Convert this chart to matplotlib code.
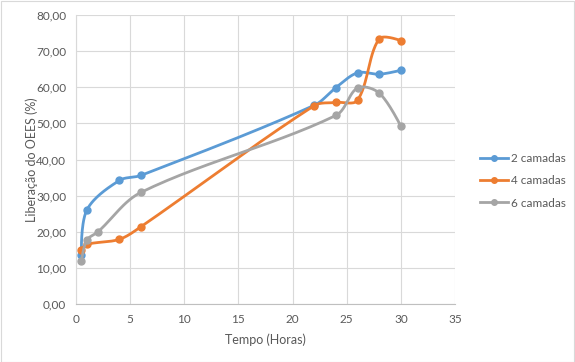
import numpy as np
import matplotlib
matplotlib.use('Agg')
from matplotlib import pyplot as plt
from matplotlib.ticker import FuncFormatter

# dados
t_2 = [0.5, 1, 4, 6, 22, 24, 26, 28, 30]
lib_2 = [13.5, 26.0, 34.2, 35.6, 55.0, 59.9, 64.0, 63.6, 64.7]

t_4 = [0.5, 1, 4, 6, 22, 24, 26, 28, 30]
lib_4 = [15.0, 16.5, 17.9, 21.4, 54.9, 55.8, 56.4, 73.4, 72.9]

t_6 = [0.5, 1, 2, 6, 24, 26, 28, 30]
lib_6 = [11.9, 17.7, 19.9, 30.9, 52.2, 59.8, 58.4, 49.2]

series = ['2 camadas', '4 camadas', '6 camadas']
cores = ['#5B9BD5', '#ED7D31', '#A5A5A5']

plt.rcParams['font.family'] = ['Lato', 'DejaVu Sans']


def suavizar(x, y, n=30):
    # curva suave parecida com a do excel (bezier, tangente pesada pelo tamanho dos trechos)
    p = np.column_stack([np.asarray(x, float), np.asarray(y, float)])
    esc = np.array([10.83, 3.61])  # px por unidade, para medir distancias
    k = len(p)
    L = [np.linalg.norm((p[i + 1] - p[i]) * esc) for i in range(k - 1)]
    tang = []
    for i in range(k):
        a = p[i - 1] if i > 0 else p[i]
        b = p[i + 1] if i < k - 1 else p[i]
        tang.append(b - a)
    out = [p[0]]
    for i in range(k - 1):
        p1, p2 = p[i], p[i + 1]
        lp = L[i - 1] if i > 0 else 0.0
        ln = L[i + 1] if i + 1 < k - 1 else 0.0
        f1 = L[i] / (lp + L[i]) / 3.0 if i > 0 else 0.0
        f2 = L[i] / (L[i] + ln) / 3.0 if i + 1 < k - 1 else 0.0
        c1 = p1 + tang[i] * f1
        c2 = p2 - tang[i + 1] * f2
        s = np.linspace(0, 1, n)[1:, None]
        b = (1 - s) ** 3 * p1 + 3 * (1 - s) ** 2 * s * c1 + 3 * (1 - s) * s ** 2 * c2 + s ** 3 * p2
        out.extend(b)
    out = np.array(out)
    return out[:, 0], out[:, 1]


fig = plt.figure(figsize=(5.75, 3.62), dpi=100)
ax = fig.add_axes([76 / 575, 58 / 362, 379 / 575, 289 / 362])

dados = [(t_2, lib_2), (t_4, lib_4), (t_6, lib_6)]
for (x, y), nome, cor in zip(dados, series, cores):
    xs, ys = suavizar(x, y)
    ax.plot(xs, ys, color=cor, lw=2, zorder=3, label=nome,
            marker='o', markersize=5, markevery=list(range(0, len(xs), 29)))

ax.set_xlim(0, 35)
ax.set_ylim(0, 80)
ax.set_xticks(range(0, 36, 5))
ax.set_yticks(range(0, 81, 10))
ax.yaxis.set_major_formatter(FuncFormatter(lambda v, p: ('%.2f' % v).replace('.', ',')))
ax.grid(True, color='#D9D9D9', lw=0.8)
ax.set_axisbelow(True)
for lado in ['top', 'right']:
    ax.spines[lado].set_visible(False)
ax.spines['left'].set_color('#D9D9D9')
ax.spines['bottom'].set_color('#BFBFBF')
ax.tick_params(length=0, colors='#595959', labelsize=8.5, pad=7)

ax.set_xlabel('Tempo (Horas)', color='#595959', fontsize=9, labelpad=6)
ax.set_ylabel('Liberação do OEES (%)', color='#595959', fontsize=9, labelpad=-1)

leg = ax.legend(loc='center left', bbox_to_anchor=(1.065, 0.426), frameon=False,
                borderaxespad=0, borderpad=0, fontsize=8.5, labelcolor='#595959',
                handlelength=2.4, handletextpad=0.25, labelspacing=0.95, markerscale=0.8)

fig.patches.append(plt.Rectangle((0.5 / 575, 0.5 / 362), 573.5 / 575, 360.5 / 362,
                                 transform=fig.transFigure, fill=False,
                                 edgecolor='#D9D9D9', lw=0.8))

fig.savefig('out.png', dpi=100)
